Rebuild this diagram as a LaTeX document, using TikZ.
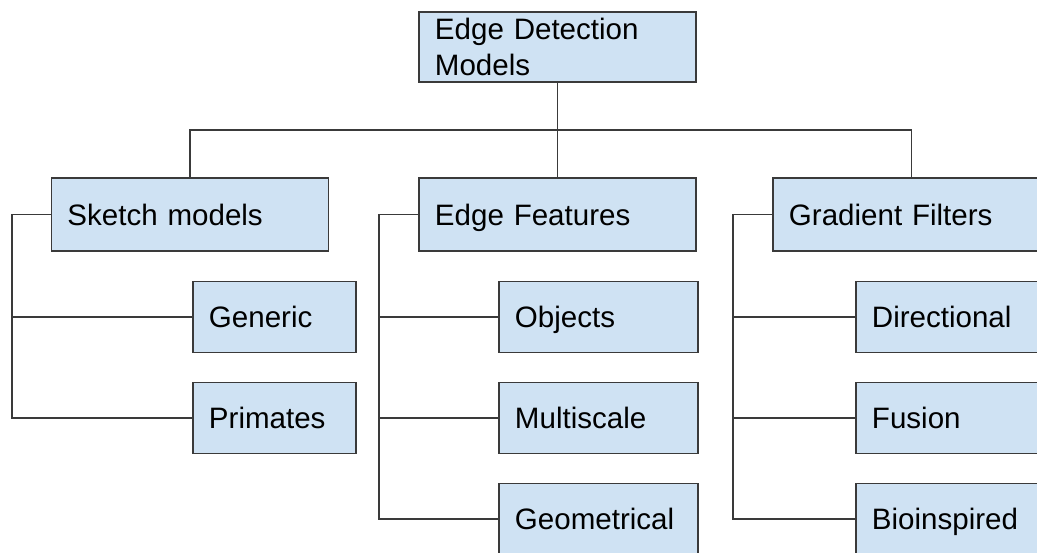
\documentclass[tikz,border=0pt]{standalone}
\usepackage{fontspec}
\setmainfont{Liberation Sans}
\definecolor{boxblue}{HTML}{CFE2F3}
\definecolor{edgegray}{HTML}{3A3A3A}

\begin{document}
\begin{tikzpicture}[x=0.025cm, y=-0.025cm,
          bluebox/.style={rectangle, draw=edgegray, fill=boxblue, line width=0.9pt,
            inner xsep=0.4cm, inner ysep=0pt, align=left, font=\fontsize{21}{25}\selectfont},
          onerow/.style={bluebox, text height=15pt, text depth=0pt},
          widebox/.style={onerow, text width=6.125cm, minimum height=1.825cm},
          leafbox/.style={onerow, text width=4.175cm, minimum height=1.775cm},
          smallbox/.style={onerow, text width=3.275cm, minimum height=1.775cm},
          link/.style={draw=edgegray, line width=0.9pt}]

        \path[use as bounding box, clip] (0,0) rectangle (1037,552);

        \node[bluebox, text width=6.125cm, minimum height=1.75cm] (root) at (557.5,47) {Edge Detection\\Models};

        \node[widebox] (sketch) at (190,214.5)   {Sketch models};
        \node[widebox] (feat)   at (557.5,214.5) {Edge Features};
        \node[widebox] (grad)   at (911.5,214.5) {Gradient Filters};

        \node[smallbox] (generic)  at (274.5,317) {Generic};
        \node[smallbox] (primates) at (274.5,418) {Primates};

        \node[leafbox] (objects)     at (598.5,317) {Objects};
        \node[leafbox] (multiscale)  at (598.5,418) {Multiscale};
        \node[leafbox] (geometrical) at (598.5,519) {Geometrical};

        \node[leafbox] (directional) at (955.5,317) {Directional};
        \node[leafbox] (fusion)      at (955.5,418) {Fusion};
        \node[leafbox] (bioinspired) at (955.5,519) {Bioinspired};

        \coordinate (hbus)  at (557.5,130);
        \coordinate (skbus) at (12,214.5);
        \coordinate (ftbus) at (379,214.5);
        \coordinate (grbus) at (733,214.5);

        \draw[link] (root) -- (feat);
        \draw[link] (sketch.north) |- (hbus) -| (grad.north);

        \draw[link] (sketch.west) -- (skbus) |- (primates.west);
        \draw[link] (skbus |- generic.west) -- (generic.west);

        \draw[link] (feat.west) -- (ftbus) |- (geometrical.west);
        \draw[link] (ftbus |- objects.west)    -- (objects.west);
        \draw[link] (ftbus |- multiscale.west) -- (multiscale.west);

        \draw[link] (grad.west) -- (grbus) |- (bioinspired.west);
        \draw[link] (grbus |- directional.west) -- (directional.west);
        \draw[link] (grbus |- fusion.west)      -- (fusion.west);

      \end{tikzpicture}
\end{document}
